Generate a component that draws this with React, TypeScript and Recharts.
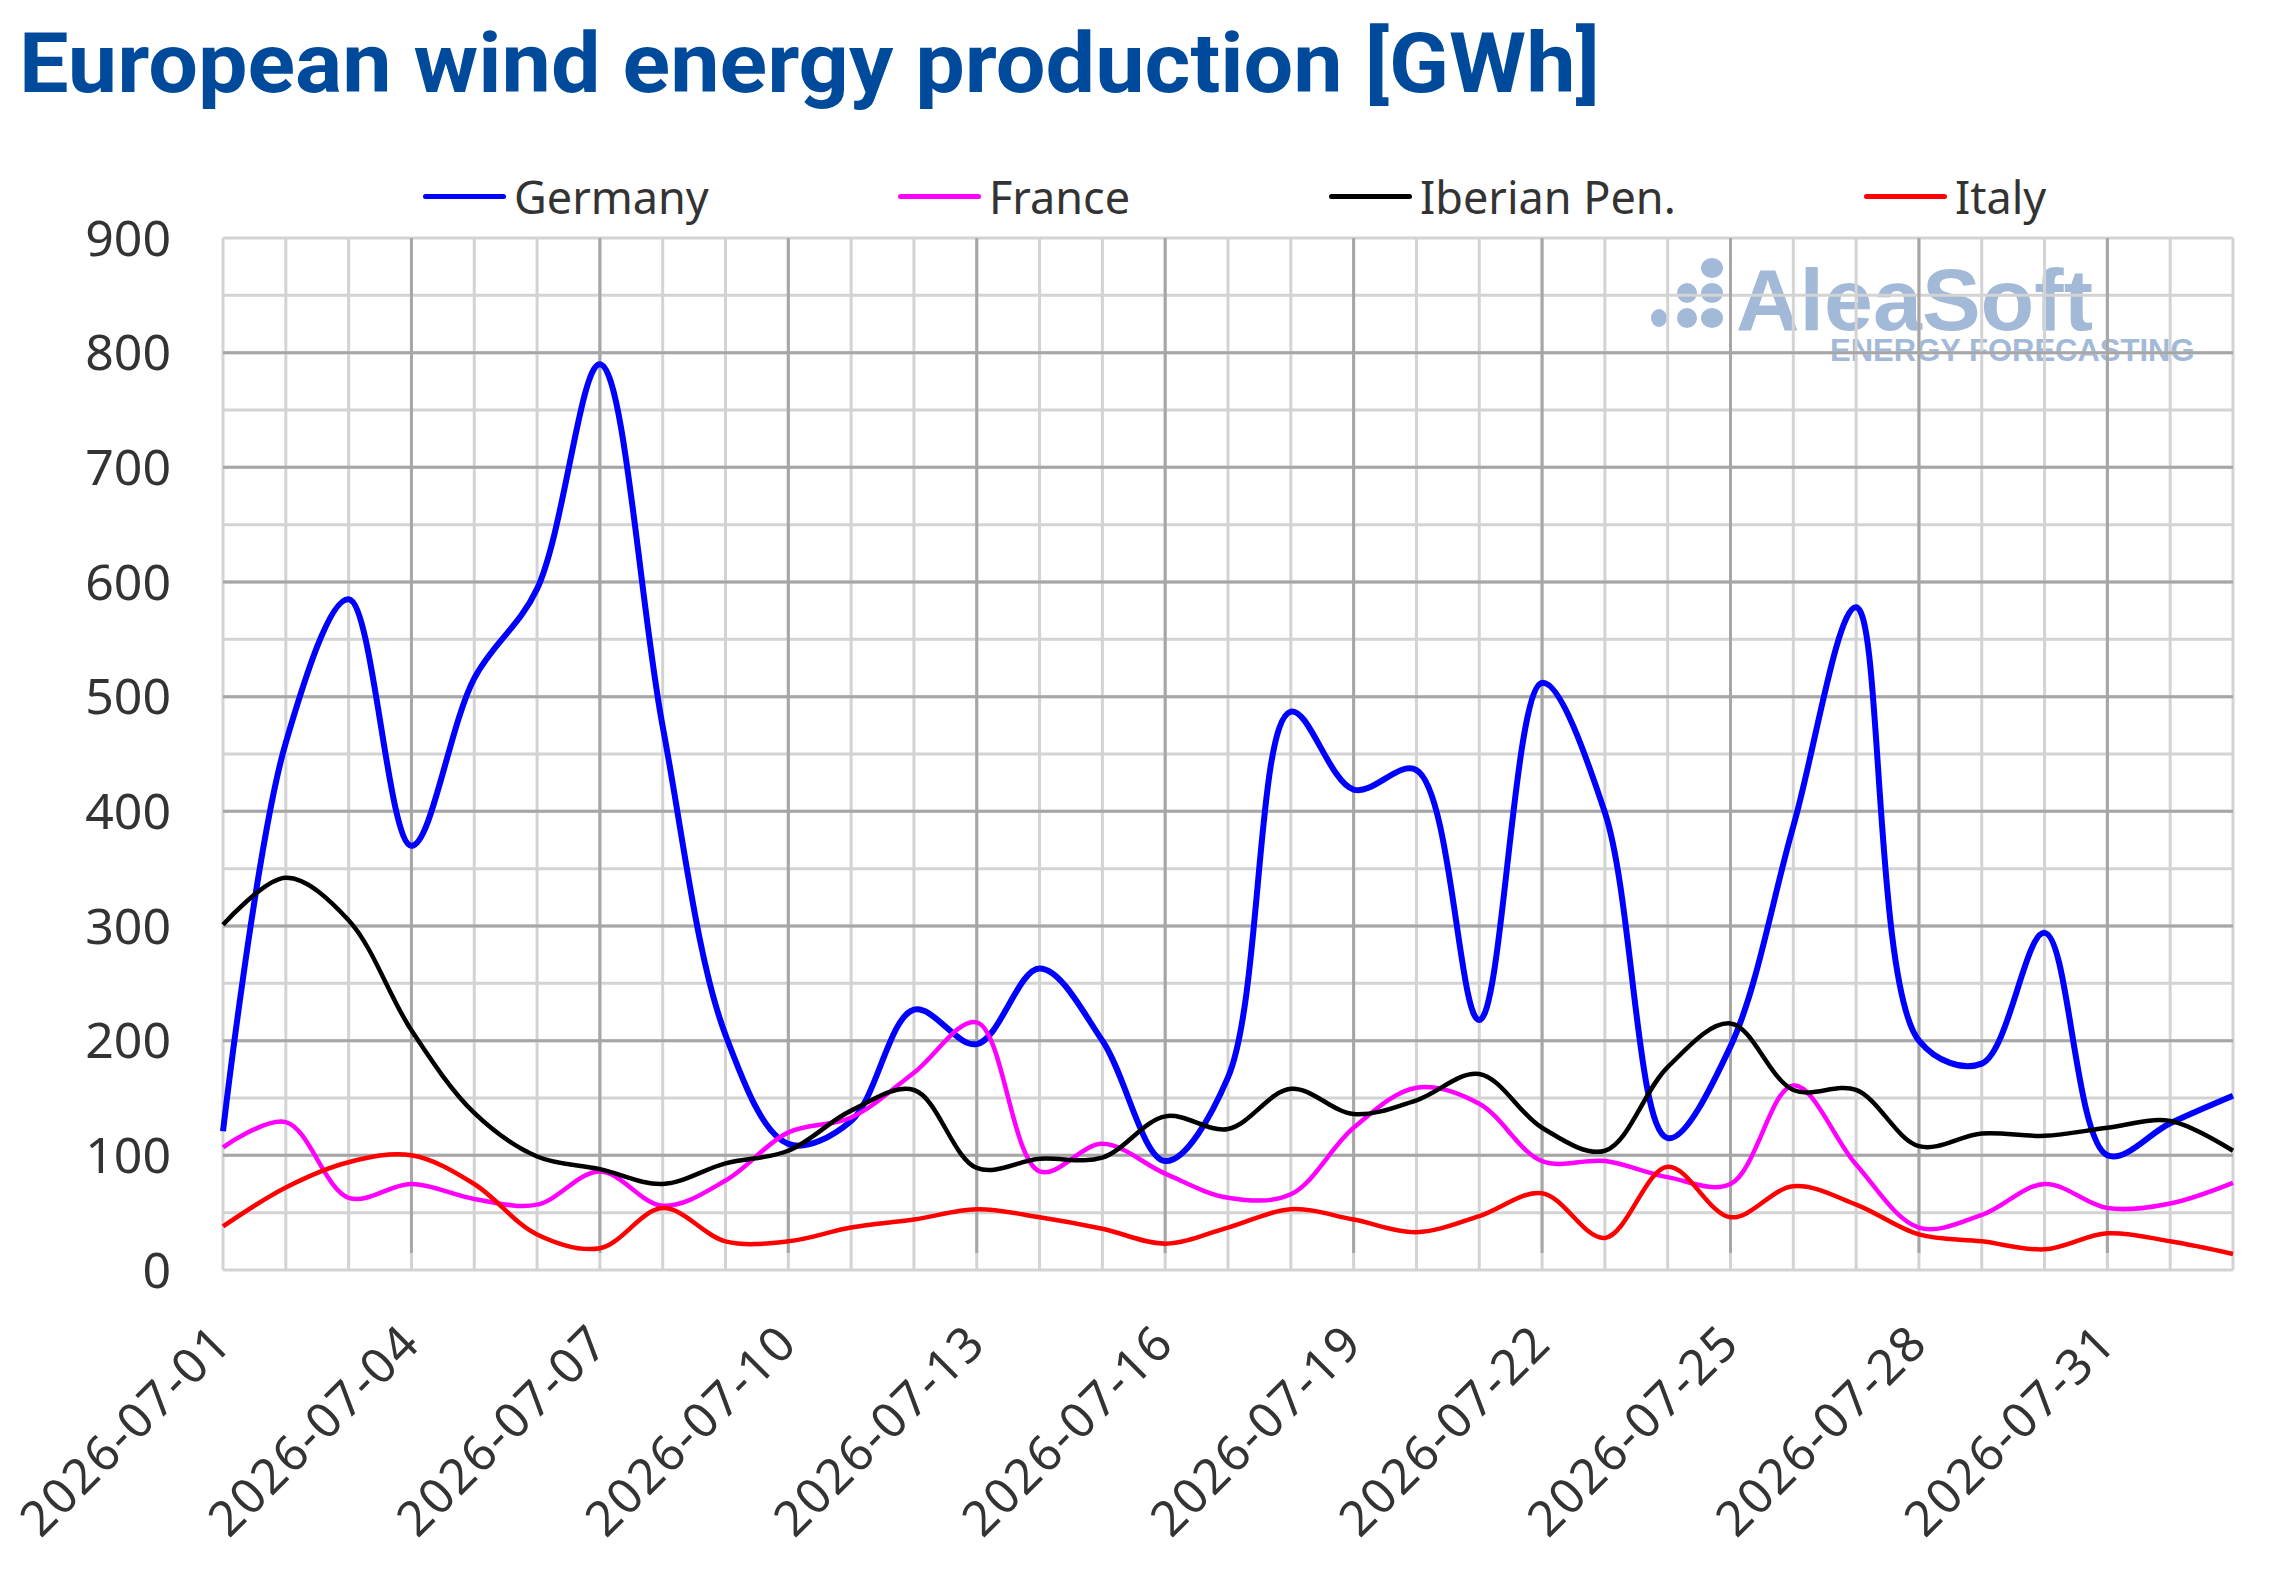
import { LineChart, Line, XAxis, YAxis, CartesianGrid } from 'recharts'

const dates = [
    '2026-07-01', '2026-07-02', '2026-07-03', '2026-07-04', '2026-07-05', '2026-07-06', '2026-07-07',
    '2026-07-08', '2026-07-09', '2026-07-10', '2026-07-11', '2026-07-12', '2026-07-13', '2026-07-14',
    '2026-07-15', '2026-07-16', '2026-07-17', '2026-07-18', '2026-07-19', '2026-07-20', '2026-07-21',
    '2026-07-22', '2026-07-23', '2026-07-24', '2026-07-25', '2026-07-26', '2026-07-27', '2026-07-28',
    '2026-07-29', '2026-07-30', '2026-07-31', '2026-08-01', '2026-08-02'
]

const germany = [121, 460, 585, 370, 516, 594, 790, 474, 205, 110, 130, 227, 197, 263, 200, 95, 168,
    487, 419, 436, 218, 512, 399, 115, 195, 387, 578, 200, 180, 294, 100, 128, 152]
const france = [107, 129, 63, 75, 62, 57, 86, 56, 78, 120, 133, 172, 216, 86, 110, 84, 63,
    66, 124, 159, 145, 95, 95, 81, 75, 161, 92, 37, 48, 75, 54, 58, 76]
const iberian = [301, 342, 305, 209, 137, 99, 88, 75, 93, 104, 139, 157, 89, 97, 98, 134, 123,
    158, 136, 148, 171, 124, 104, 177, 215, 157, 157, 108, 119, 117, 124, 130, 104]
const italy = [38, 72, 94, 100, 75, 31, 19, 54, 25, 25, 37, 44, 53, 46, 36, 23, 37,
    53, 44, 33, 47, 67, 28, 90, 46, 73, 57, 31, 25, 18, 32, 25, 14]

const yTicks = [0, 100, 200, 300, 400, 500, 600, 700, 800, 900]
const yMinor = [0, 50, 100, 150, 200, 250, 300, 350, 400, 450, 500, 550, 600, 650, 700, 750, 800, 850, 900]
const yMajor = [100, 200, 300, 400, 500, 600, 700, 800]
const labelDates = dates.filter((_, i) => i % 3 === 0 && i <= 30)
const majorDates = labelDates.slice(1)

const series = [
    { key: 'germany', name: 'Germany', color: '#0000ff', width: 6 },
    { key: 'france', name: 'France', color: '#ff00ff', width: 4.5 },
    { key: 'iberian', name: 'Iberian Pen.', color: '#000000', width: 4.5 },
    { key: 'italy', name: 'Italy', color: '#ff0000', width: 4.5 },
]
const legendLeft = [423, 898, 1329, 1864]

const chartData = dates.map((d, i) => ({
    date: d,
    germany: germany[i],
    france: france[i],
    iberian: iberian[i],
    italy: italy[i],
}))

// Excel-like smoothing: centripetal Catmull-Rom drawn as cubic beziers
const excelSmooth = (context: any) => {
    let pts: number[][] = []
    const alpha = 0.5
    return {
        areaStart() {},
        areaEnd() {},
        lineStart() { pts = [] },
        point(x: number, y: number) { pts.push([x, y]) },
        lineEnd() {
            const n = pts.length
            if (!n) return
            const d = (a: number[], b: number[]) => Math.hypot(b[0] - a[0], b[1] - a[1])
            context.moveTo(pts[0][0], pts[0][1])
            for (let i = 0; i < n - 1; i++) {
                const p1 = pts[i]
                const p2 = pts[i + 1]
                const l12_2a = Math.pow(d(p1, p2), 2 * alpha)
                const l12_a = Math.sqrt(l12_2a)
                let c1 = [p1[0], p1[1]]
                let c2 = [p2[0], p2[1]]
                if (i > 0) {
                    const p0 = pts[i - 1]
                    const l01_2a = Math.pow(d(p0, p1), 2 * alpha)
                    const l01_a = Math.sqrt(l01_2a)
                    if (l01_a > 1e-6) {
                        const a = 2 * l01_2a + 3 * l01_a * l12_a + l12_2a
                        const m = 3 * l01_a * (l01_a + l12_a)
                        c1 = [
                            (p1[0] * a - p0[0] * l12_2a + p2[0] * l01_2a) / m,
                            (p1[1] * a - p0[1] * l12_2a + p2[1] * l01_2a) / m,
                        ]
                    }
                }
                if (i < n - 2) {
                    const p3 = pts[i + 2]
                    const l23_2a = Math.pow(d(p2, p3), 2 * alpha)
                    const l23_a = Math.sqrt(l23_2a)
                    if (l23_a > 1e-6) {
                        const b = 2 * l23_2a + 3 * l23_a * l12_a + l12_2a
                        const m = 3 * l23_a * (l23_a + l12_a)
                        c2 = [
                            (p2[0] * b + p1[0] * l23_2a - p3[0] * l12_2a) / m,
                            (p2[1] * b + p1[1] * l23_2a - p3[1] * l12_2a) / m,
                        ]
                    }
                }
                context.bezierCurveTo(c1[0], c1[1], c2[0], c2[1], p2[0], p2[1])
            }
        },
    }
}

const FONT = '"Noto Sans", sans-serif'
const PLOT_H = 1032

function DateTick(props: any) {
    const { x, y, payload } = props
    if (!labelDates.includes(payload.value)) return <g />
    const ax = x + 10
    const ay = y + 77
    return (
        <text
            x={ax}
            y={ay}
            transform={`rotate(-45 ${ax} ${ay})`}
            textAnchor="end"
            fill="#333333"
            fontSize={49}
            fontFamily={FONT}
            textLength={272}
            lengthAdjust="spacing"
        >
            {payload.value}
        </text>
    )
}

function Logo() {
    const c = '#a3b9d8'
    return (
        <svg width={2282} height={1589} style={{ position: 'absolute', left: 0, top: 0 }}>
            <ellipse cx={1712} cy={268} rx={11} ry={10} fill={c} />
            <ellipse cx={1687} cy={293} rx={10} ry={10} fill={c} />
            <ellipse cx={1712} cy={293} rx={11} ry={10} fill={c} />
            <ellipse cx={1659} cy={318} rx={8} ry={9} fill={c} />
            <ellipse cx={1687} cy={318} rx={10} ry={10} fill={c} />
            <ellipse cx={1712} cy={318} rx={11} ry={10} fill={c} />
            <text fill={c} fontWeight={700} fontFamily='"Liberation Sans", Arial, sans-serif'>
                <tspan x={1736} y={330} fontSize={88}>AleaSoft</tspan>
                <tspan x={1830} y={361} fontSize={31}>ENERGY FORECASTING</tspan>
            </text>
        </svg>
    )
}

export default function App() {
    return (
        <div style={{ position: 'absolute', left: 0, top: 0, width: 2282, height: 1589, background: '#fff', overflow: 'hidden' }}>
            <svg width={2282} height={130} style={{ position: 'absolute', left: 0, top: 0 }}>
                <text
                    x={19}
                    y={92}
                    fill="#004a9c"
                    fontSize={83}
                    fontWeight={700}
                    fontFamily="Roboto, sans-serif"
                    textLength={1581}
                    lengthAdjust="spacingAndGlyphs"
                >
                    European wind energy production [GWh]
                </text>
            </svg>

            <Logo />

            {series.map((s, i) => (
                <div
                    key={s.key}
                    style={{
                        position: 'absolute',
                        left: legendLeft[i],
                        top: 166,
                        height: 60,
                        display: 'flex',
                        alignItems: 'center',
                        fontFamily: FONT,
                        fontSize: 45,
                        color: '#333333',
                        whiteSpace: 'nowrap',
                    }}
                >
                    <div style={{ width: 83, height: 5, background: s.color, borderRadius: 3, marginRight: 8 }} />
                    <span>{s.name}</span>
                </div>
            ))}

            <div style={{ position: 'absolute', left: 0, top: 0 }}>
                <LineChart
                    width={2282}
                    height={1589}
                    data={chartData}
                    margin={{ top: 238, right: 49, bottom: 0, left: 0 }}
                >
                    <CartesianGrid
                        stroke="#d3d3d3"
                        strokeWidth={3}
                        horizontalValues={yMinor}
                    />
                    <CartesianGrid
                        stroke="#a6a6a6"
                        strokeWidth={3}
                        horizontalValues={yMajor}
                        verticalValues={majorDates}
                        height={PLOT_H - 17}
                    />
                    <XAxis
                        dataKey="date"
                        interval={0}
                        height={319}
                        tickSize={0}
                        tickMargin={0}
                        axisLine={false}
                        tickLine={false}
                        tick={<DateTick />}
                    />
                    <YAxis
                        domain={[0, 900]}
                        ticks={yTicks}
                        width={223}
                        tickSize={0}
                        tickMargin={52}
                        axisLine={false}
                        tickLine={false}
                        tick={{ fill: '#333333', fontSize: 50, fontFamily: FONT }}
                    />
                    {series.map(s => (
                        <Line
                            key={s.key}
                            dataKey={s.key}
                            name={s.name}
                            type={excelSmooth as any}
                            stroke={s.color}
                            strokeWidth={s.width}
                            dot={false}
                            activeDot={false}
                            isAnimationActive={false}
                        />
                    ))}
                </LineChart>
            </div>
        </div>
    )
}
